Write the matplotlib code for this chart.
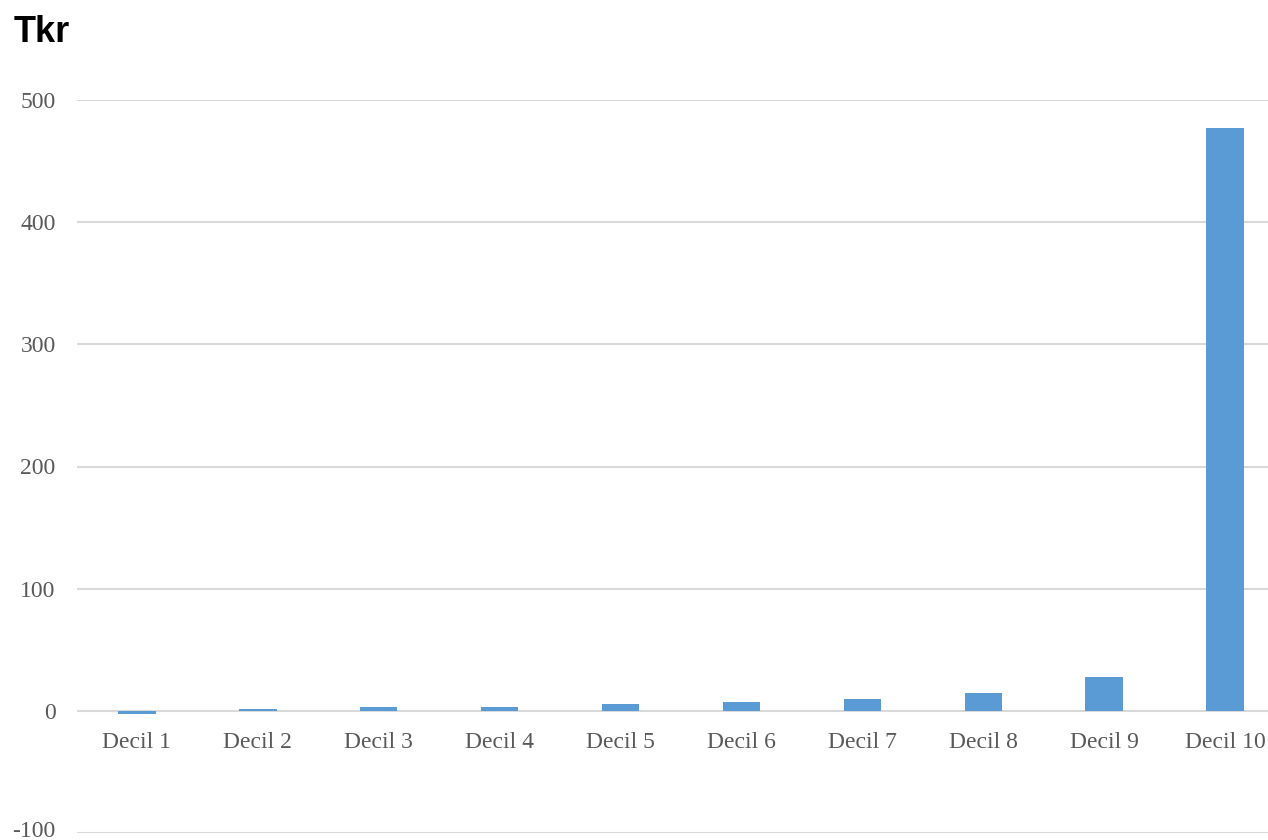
import matplotlib
matplotlib.use("Agg")
import matplotlib.pyplot as plt
import matplotlib.transforms as mtrans

# values (Tkr)
categories = ["Decil 1", "Decil 2", "Decil 3", "Decil 4", "Decil 5",
              "Decil 6", "Decil 7", "Decil 8", "Decil 9", "Decil 10"]
values = [-3, 1.2, 3.3, 3.3, 5.2, 7.4, 9.8, 14.7, 27.8, 477]
yticks = [-100, 0, 100, 200, 300, 400, 500]

fig = plt.figure(figsize=(12.68, 8.4), dpi=100)
# plot area runs slightly past the right edge, as in the reference
ax = fig.add_axes([76.5 / 1268, 1 - 833 / 840, 1209 / 1268, (833 - 100) / 840])

x = list(range(len(categories)))
ax.bar(x, values, width=0.31, color="#5B9BD5", zorder=3)

ax.set_xlim(-0.5, len(categories) - 0.5)
ax.set_ylim(-100, 500)
ax.set_yticks(yticks)
ax.set_yticklabels([str(t) for t in yticks])
ax.set_xticks(x)
ax.set_xticklabels(categories)

for t in yticks:
    ax.axhline(t, color="#D9D9D9", lw=1.5, zorder=1)

for s in ax.spines.values():
    s.set_visible(False)
ax.tick_params(axis="both", length=0, labelsize=17, colors="#595959")
ax.tick_params(axis="y", pad=15)
for lab in ax.get_xticklabels() + ax.get_yticklabels():
    lab.set_family("Liberation Serif")

# bottom label would touch the edge, nudge it up a little
bottom = ax.get_yticklabels()[0]
bottom.set_transform(bottom.get_transform()
                     + mtrans.ScaledTranslation(0, 3 / 72, fig.dpi_scale_trans))

# x labels sit just under the zero line
for lab in ax.get_xticklabels():
    lab.set_y(0)
    lab.set_transform(ax.transData
                      + mtrans.ScaledTranslation(0, -15 / 72, fig.dpi_scale_trans))
    lab.set_verticalalignment("top")

fig.text(14 / 1268, 1 - 42 / 840, "Tkr", family="Liberation Sans", fontweight="bold",
         fontsize=26, color="black")

fig.savefig("out.png", dpi=100)
